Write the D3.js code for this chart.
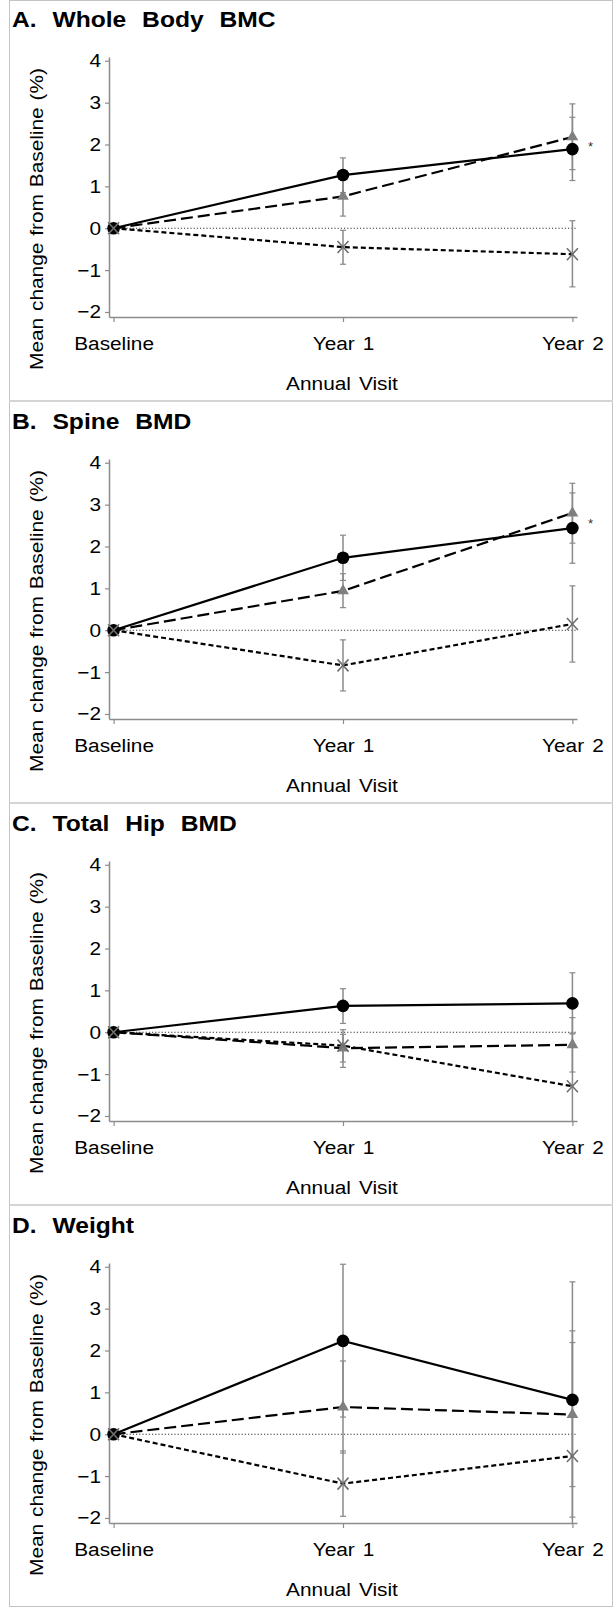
<!DOCTYPE html>
<html>
<head>
<meta charset="utf-8">
<script src="https://cdn.jsdelivr.net/npm/d3@7"></script>
<style>
  body { margin: 0; background: #fff; }
  svg { display: block; font-family: "Liberation Sans", Arial, sans-serif; }
</style>
</head>
<body>
<svg width="616" height="1608"></svg>
<script>
const visits = ["Baseline", "Year 1", "Year 2"];
const panelTitles = ["A. Whole Body BMC", "B. Spine BMD", "C. Total Hip BMD", "D. Weight"];
const yTicks = [-2, -1, 0, 1, 2, 3, 4];
const starred = [true, true, false, false];

// solid line, filled circle
const circleMean = [[0, 1.27, 1.89], [0, 1.73, 2.44], [0, 0.63, 0.69], [0, 2.23, 0.82]];
const circleLow  = [[0, 0.85, 1.14], [0, 1.19, 1.60], [0, 0.21, -0.04], [0, 0.41, -1.98]];
const circleHigh = [[0, 1.68, 2.65], [0, 2.27, 3.28], [0, 1.04, 1.42], [0, 4.06, 3.64]];

// long dash, grey triangle
const triMean = [[0, 0.76, 2.18], [0, 0.94, 2.80], [0, -0.38, -0.30], [0, 0.65, 0.47]];
const triLow  = [[0, 0.29, 1.40], [0, 0.54, 2.08], [0, -0.71, -0.95], [0, -0.45, -1.25]];
const triHigh = [[0, 1.22, 2.97], [0, 1.35, 3.51], [0, -0.05, 0.35], [0, 1.75, 2.19]];

// short dash, grey cross
const crossMean = [[0, -0.45, -0.62], [0, -0.84, 0.15], [0, -0.32, -1.29], [0, -1.18, -0.52]];
const crossLow  = [[0, -0.86, -1.40], [0, -1.45, -0.76], [0, -0.84, -2.56], [0, -1.96, -3.51]];
const crossHigh = [[0, -0.05, 0.18], [0, -0.23, 1.06], [0, 0.06, -0.02], [0, -0.40, 2.47]];

const svg = d3.select("svg"),
    panelH = 402,
    yMin = -2.12, yMax = 4.09,
    stretchK = 1.12;

const x = d3.scalePoint()
    .domain(visits)
    .range([109, 577])
    .padding(0.02);

const y = d3.scaleLinear()
    .domain([yMin, yMax])
    .range([317, 57]);

const clip = v => Math.max(yMin, Math.min(yMax, v));

// widen glyphs a little, the source font is broader than Arial
function stretch(sel, extra = "") {
  sel.each(function() {
    const t = d3.select(this);
    const tx = +t.attr("x") || 0, ty = +t.attr("y") || 0;
    t.attr("x", null).attr("y", null)
     .attr("transform", `translate(${tx},${ty}) ${extra} scale(${stretchK},1)`);
  });
}

const series = [
  {mean: triMean, low: triLow, high: triHigh, dash: "12,5", marker: "triangle"},
  {mean: circleMean, low: circleLow, high: circleHigh, dash: null, marker: "circle"},
  {mean: crossMean, low: crossLow, high: crossHigh, dash: "5,3", marker: "cross"}
];

// frame
svg.append("rect")
    .attr("x", 9.5).attr("y", 0.5)
    .attr("width", 603).attr("height", 1606)
    .attr("fill", "none")
    .attr("stroke", "#c4c4c4");

panelTitles.forEach((title, p) => {
  const g = svg.append("g").attr("transform", `translate(0,${p * panelH})`);

  if (p > 0) {
    g.append("line")
        .attr("x1", 9).attr("x2", 613)
        .attr("y1", -1).attr("y2", -1)
        .attr("stroke", "#d4d4d4")
        .attr("stroke-width", 2);
  }

  g.append("text")
      .attr("x", 12)
      .attr("y", 27)
      .attr("font-size", 22)
      .attr("font-weight", "bold")
      .style("word-spacing", "8px")
      .text(title)
      .call(stretch);

  // y axis
  const ya = g.append("g")
      .attr("transform", "translate(109,0)")
      .call(d3.axisLeft(y).tickValues(yTicks).tickSize(4).tickPadding(4).tickSizeOuter(0)
        .tickFormat(d => d < 0 ? "\u2212" + Math.abs(d) : d));

  // x axis
  const xa = g.append("g")
      .attr("transform", "translate(0,317)")
      .call(d3.axisBottom(x).tickSize(5).tickPadding(15).tickSizeOuter(0));

  [ya, xa].forEach(a => {
    a.attr("font-family", null).attr("font-size", null);
    a.select(".domain").attr("stroke", "#8c8c8c").attr("stroke-width", 1.5);
    a.selectAll(".tick line").attr("stroke", "#8c8c8c").attr("stroke-width", 1.2);
    a.selectAll(".tick text").attr("font-size", 18.6).attr("fill", "#000")
        .style("word-spacing", "2px")
        .call(stretch);
  });

  g.append("text")
      .attr("x", 43)
      .attr("y", 219)
      .attr("text-anchor", "middle")
      .attr("font-size", 18.6)
      .style("word-spacing", "1px")
      .text("Mean change from Baseline (%)")
      .call(stretch, "rotate(-90)");

  g.append("text")
      .attr("x", 342)
      .attr("y", 390)
      .attr("text-anchor", "middle")
      .attr("font-size", 18.6)
      .style("word-spacing", "2px")
      .text("Annual Visit")
      .call(stretch);

  // zero reference
  g.append("line")
      .attr("x1", x("Baseline")).attr("x2", x.range()[1] - 1)
      .attr("y1", y(0)).attr("y2", y(0))
      .attr("stroke", "#333")
      .attr("stroke-width", 1.2)
      .attr("stroke-dasharray", "1.2,2");

  // error bars
  series.forEach(s => {
    const bars = visits.map((v, i) => ({v, lo: s.low[p][i], hi: s.high[p][i]}))
        .filter(d => d.lo !== d.hi);
    const eb = g.append("g").attr("stroke", "#8a8a8a").attr("stroke-width", 1.5);
    eb.selectAll("line.bar").data(bars).join("line")
        .attr("x1", d => x(d.v)).attr("x2", d => x(d.v))
        .attr("y1", d => y(clip(d.lo))).attr("y2", d => y(clip(d.hi)));
    const caps = bars.flatMap(d => [d.lo, d.hi].filter(c => c >= yMin && c <= yMax).map(c => ({v: d.v, c})));
    eb.selectAll("line.cap").data(caps).join("line")
        .attr("x1", d => x(d.v) - 3).attr("x2", d => x(d.v) + 3)
        .attr("y1", d => y(d.c)).attr("y2", d => y(d.c))
        .attr("stroke-width", 1.2);
  });

  // lines
  const line = d3.line().x((d, i) => x(visits[i])).y(d => y(d));
  series.forEach(s => {
    g.append("path")
        .attr("d", line(s.mean[p]))
        .attr("fill", "none")
        .attr("stroke", "#000")
        .attr("stroke-width", 2.2)
        .attr("stroke-dasharray", s.dash);
  });

  // markers
  series.forEach(s => {
    const pts = visits.map((v, i) => ({v, m: s.mean[p][i]}));
    if (s.marker === "circle") {
      g.selectAll(null).data(pts).join("circle")
          .attr("cx", d => x(d.v)).attr("cy", d => y(d.m))
          .attr("r", 6.3)
          .attr("fill", "#000");
    } else if (s.marker === "triangle") {
      g.selectAll(null).data(pts).join("path")
          .attr("transform", d => `translate(${x(d.v)},${y(d.m)})`)
          .attr("d", d3.symbol(d3.symbolTriangle, 60))
          .attr("fill", "#808080");
    } else {
      g.selectAll(null).data(pts).join("path")
          .attr("transform", d => `translate(${x(d.v)},${y(d.m)})`)
          .attr("d", "M-5.5,-6L5.5,6M-5.5,6L5.5,-6")
          .attr("stroke", "#707070")
          .attr("stroke-width", 1.6)
          .attr("fill", "none");
    }
  });

  if (starred[p]) {
    const mid = (triMean[p][2] + circleMean[p][2]) / 2;
    g.append("text")
        .attr("x", x("Year 2") + 18)
        .attr("y", y(mid))
        .attr("dy", "0.6em")
        .attr("text-anchor", "middle")
        .attr("font-size", 13)
        .attr("fill", "#333")
        .text("*");
  }
});
</script>
</body>
</html>
